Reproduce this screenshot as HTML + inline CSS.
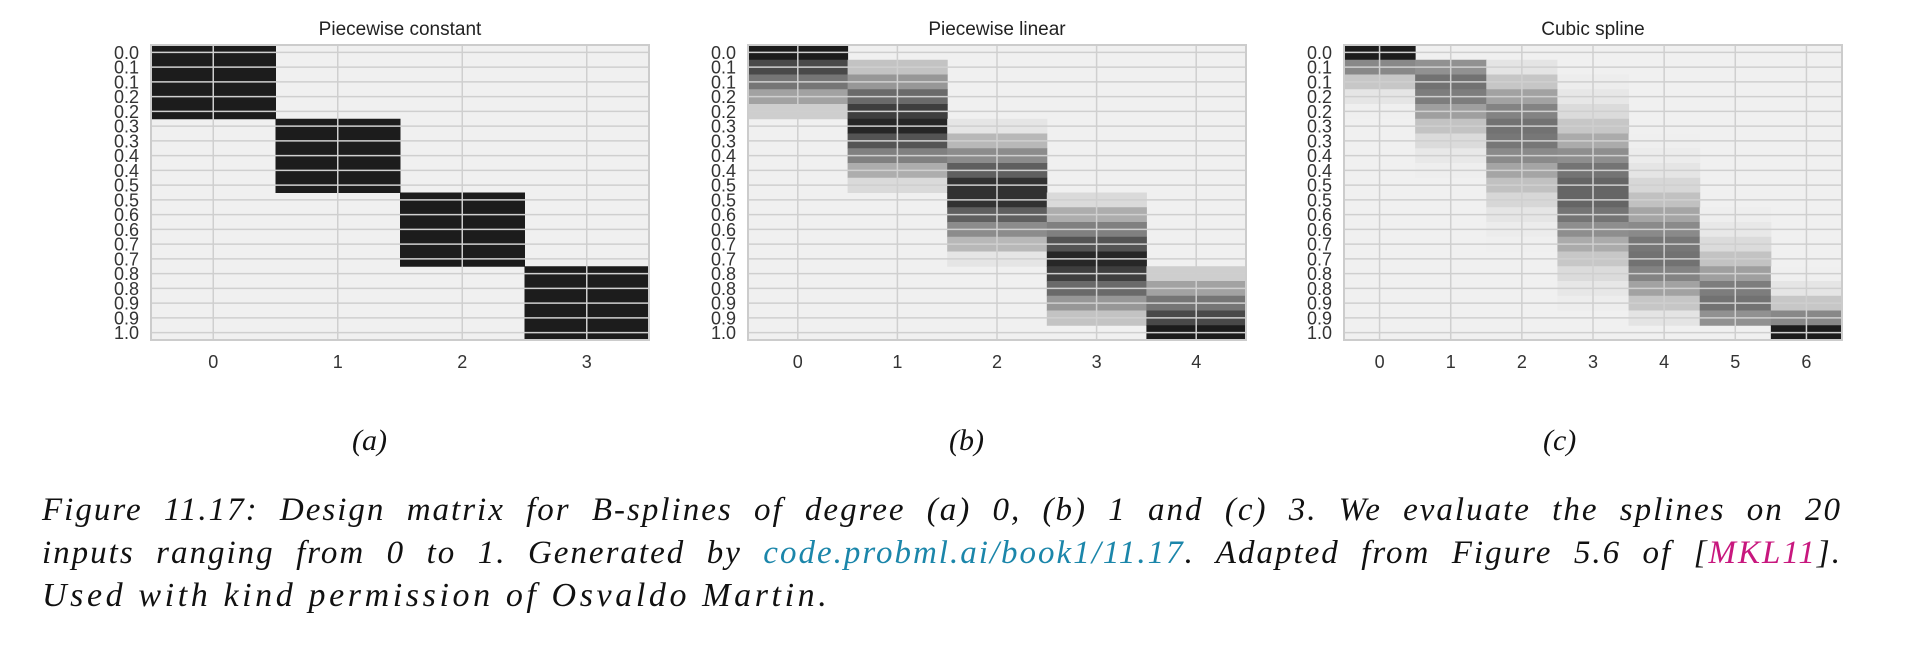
<!DOCTYPE html>
<html><head><meta charset="utf-8">
<style>
html,body{margin:0;padding:0;background:#fff;}
body{width:1918px;height:656px;position:relative;overflow:hidden;}
svg{position:absolute;left:0;top:0;}
.cap{position:absolute;left:42px;width:1800px;font-family:"Liberation Serif",serif;font-style:italic;font-size:34px;letter-spacing:3.6px;color:#111;white-space:nowrap;line-height:40px;}
.just{text-align:justify;text-align-last:justify;white-space:normal;font-size:33px;letter-spacing:2px;}
.sub{position:absolute;top:424px;font-family:"Liberation Serif",serif;font-style:italic;font-size:30px;color:#111;}
</style></head>
<body>
<svg id="fig" width="1918" height="420" xmlns="http://www.w3.org/2000/svg"></svg>
<div class="sub" style="left:352px">(a)</div>
<div class="sub" style="left:949px">(b)</div>
<div class="sub" style="left:1543px">(c)</div>
<div class="cap just" style="top:490px">Figure 11.17: Design matrix for B-splines of degree (a) 0, (b) 1 and (c) 3. We evaluate the splines on 20</div>
<div class="cap just" style="top:533px">inputs ranging from 0 to 1. Generated by <span style="color:#1b86aa">code.probml.ai/book1/11.17</span>. Adapted from Figure 5.6 of [<span style="color:#c8177e">MKL11</span>].</div>
<div class="cap" style="top:576px">Used with kind permission of Osvaldo Martin.</div>
<script>
const rowLabels=["0.0","0.1","0.1","0.2","0.2","0.3","0.3","0.4","0.4","0.5","0.5","0.6","0.6","0.7","0.7","0.8","0.8","0.9","0.9","1.0"];
const titles=["Piecewise constant","Piecewise linear","Cubic spline"];
const dataA=[
[1,0,0,0],[1,0,0,0],[1,0,0,0],[1,0,0,0],[1,0,0,0],
[0,1,0,0],[0,1,0,0],[0,1,0,0],[0,1,0,0],[0,1,0,0],
[0,0,1,0],[0,0,1,0],[0,0,1,0],[0,0,1,0],[0,0,1,0],
[0,0,0,1],[0,0,0,1],[0,0,0,1],[0,0,0,1],[0,0,0,1]];
const dataB=[
[1,0,0,0,0],[0.79,0.21,0,0,0],[0.58,0.42,0,0,0],[0.37,0.63,0,0,0],[0.16,0.84,0,0,0],
[0,0.947,0.053,0,0],[0,0.737,0.263,0,0],[0,0.526,0.474,0,0],[0,0.316,0.684,0,0],[0,0.105,0.895,0,0],
[0,0,0.895,0.105,0],[0,0,0.684,0.316,0],[0,0,0.474,0.526,0],[0,0,0.263,0.737,0],[0,0,0.053,0.947,0],
[0,0,0,0.84,0.16],[0,0,0,0.63,0.37],[0,0,0,0.42,0.58],[0,0,0,0.21,0.79],[0,0,0,0,1]];
const dataC=[
[1,0,0,0,0,0,0],
[0.492,0.449,0.058,0.002,0,0,0],
[0.194,0.596,0.198,0.012,0,0,0],
[0.05,0.541,0.367,0.042,0,0,0],
[0.004,0.380,0.516,0.100,0,0,0],
[0,0.213,0.593,0.194,0,0,0],
[0,0.100,0.573,0.324,0.003,0,0],
[0,0.036,0.483,0.463,0.018,0,0],
[0,0.008,0.356,0.583,0.053,0,0],
[0,0,0.224,0.656,0.119,0,0],
[0,0,0.119,0.656,0.224,0,0],
[0,0,0.053,0.583,0.356,0.008,0],
[0,0,0.018,0.463,0.483,0.036,0],
[0,0,0.003,0.324,0.573,0.100,0],
[0,0,0,0.194,0.593,0.213,0],
[0,0,0,0.100,0.516,0.380,0.004],
[0,0,0,0.042,0.367,0.541,0.05],
[0,0,0,0.012,0.198,0.596,0.194],
[0,0,0,0.002,0.058,0.449,0.492],
[0,0,0,0,0,0,1]];
const panels=[dataA,dataB,dataC];
const panelNames=["constant","linear","cubic"];
const NS="http://www.w3.org/2000/svg";
const svg=document.getElementById('fig');
const lefts=[151,748,1344], W=498, TOP=45, H=295;
function mk(t,a){const e=document.createElementNS(NS,t);for(const k in a)e.setAttribute(k,a[k]);return e;}
function shade(v){const g=Math.round(240-v*212);return `rgb(${g},${g},${g})`;}
panels.forEach((d,p)=>{
  const L=lefts[p], nr=d.length, nc=d[0].length, cw=W/nc, rh=H/nr;
  const xS=c=>L+c*cw, yS=r=>TOP+r*rh;
  const g=mk('g',{});
  
  
  svg.appendChild(g);
  const bg=mk('rect',{x:L,y:TOP,width:W,height:H,fill:'#f0f0f0'});
  
  
  g.appendChild(bg);
  for(let r=0;r<nr;r++)for(let c=0;c<nc;c++){
    if(d[r][c]<=0)continue;
    const cell=mk('rect',{x:xS(c),y:yS(r),width:cw+0.5,height:rh+0.5,fill:shade(d[r][c])});
    
    
    g.appendChild(cell);
  }
  for(let r=0;r<nr;r++){
    const y=yS(r)+rh/2;
    const ln=mk('line',{x1:L,x2:L+W,y1:y,y2:y,stroke:'#cfcfcf','stroke-width':1.5});
    
    
    g.appendChild(ln);
    const t=mk('text',{x:L-12,y:y+6.5,'text-anchor':'end','font-family':'Liberation Sans, sans-serif','font-size':18,fill:'#333'});
    t.textContent=rowLabels[r];
    
    
    g.appendChild(t);
  }
  for(let c=0;c<nc;c++){
    const x=xS(c)+cw/2;
    const ln=mk('line',{x1:x,x2:x,y1:TOP,y2:TOP+H,stroke:'#cfcfcf','stroke-width':1.5});
    
    
    g.appendChild(ln);
    const t=mk('text',{x:x,y:368,'text-anchor':'middle','font-family':'Liberation Sans, sans-serif','font-size':18,fill:'#333'});
    t.textContent=String(c);
    
    
    g.appendChild(t);
  }
  const fr=mk('rect',{x:L,y:TOP,width:W,height:H,fill:'none',stroke:'#cccccc','stroke-width':2});
  
  
  g.appendChild(fr);
  const tt=mk('text',{x:L+W/2,y:35,'text-anchor':'middle','font-family':'Liberation Sans, sans-serif','font-size':19,fill:'#222'});
  tt.textContent=titles[p];
  
  
  g.appendChild(tt);
});
</script>
</body></html>
